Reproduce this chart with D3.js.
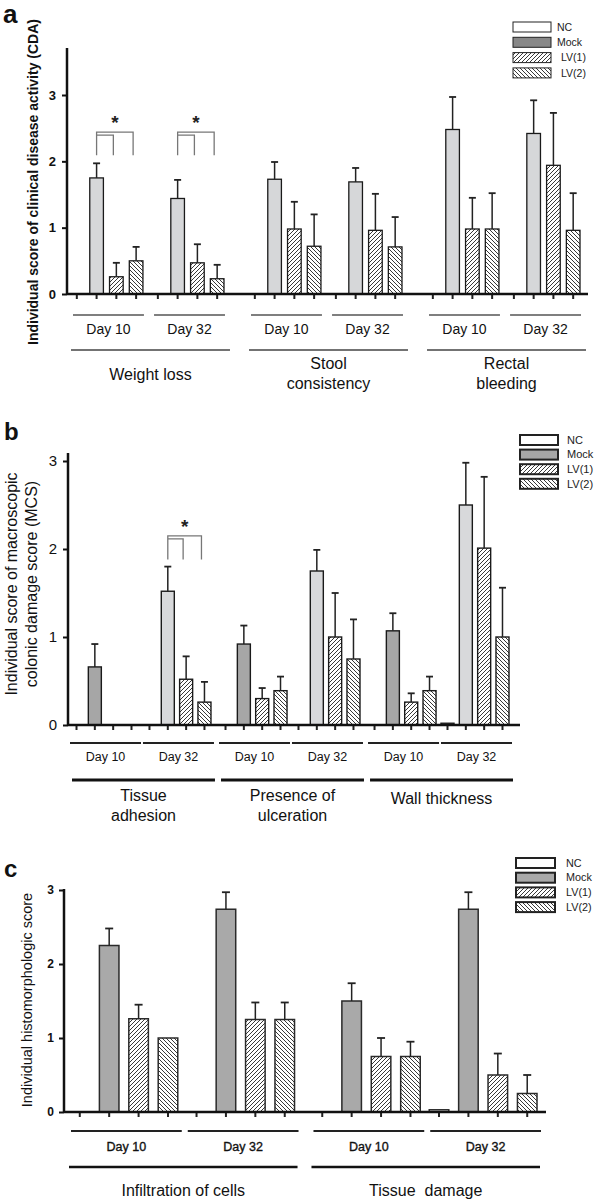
<!DOCTYPE html>
<html><head><meta charset="utf-8">
<script src="https://cdn.jsdelivr.net/npm/d3@7"></script>
<style>
body{margin:0;background:#fff;}
svg{display:block;font-family:"Liberation Sans",Arial,Helvetica,sans-serif;}
</style></head><body>
<svg id="chart" width="600" height="1199"></svg>
<script>
// ---------- shared ----------
const series = ["NC", "Mock", "LV(1)", "LV(2)"];
const days = ["Day 10", "Day 32"];
const yTicks = [0, 1, 2, 3];

// ---------- panel a : clinical disease activity ----------
const aCategories = ["Weight loss", "Stool consistency", "Rectal bleeding"];
const aCategoryLines = [["Weight loss"], ["Stool", "consistency"], ["Rectal", "bleeding"]];
const aNC      = [0, 0, 0, 0, 0, 0];
const aMock    = [1.75, 1.44, 1.73, 1.69, 2.48, 2.42];
const aLV1     = [0.26, 0.47, 0.98, 0.96, 0.98, 1.94];
const aLV2     = [0.50, 0.23, 0.72, 0.71, 0.98, 0.96];
const aNCErr   = [0, 0, 0, 0, 0, 0];
const aMockErr = [0.22, 0.28, 0.26, 0.21, 0.49, 0.50];
const aLV1Err  = [0.21, 0.28, 0.41, 0.55, 0.47, 0.79];
const aLV2Err  = [0.21, 0.21, 0.48, 0.45, 0.54, 0.56];
const aSig = [{cat: 0, day: 0, top: 2.44, bottom: 2.09}, {cat: 0, day: 1, top: 2.44, bottom: 2.09}];

// ---------- panel b : macroscopic colonic damage ----------
const bCategories = ["Tissue adhesion", "Presence of ulceration", "Wall thickness"];
const bCategoryLines = [["Tissue", "adhesion"], ["Presence of", "ulceration"], ["Wall thickness"]];
const bNC      = [0, 0, 0, 0, 0, 0.02];
const bMock    = [0.66, 1.52, 0.92, 1.75, 1.07, 2.50];
const bLV1     = [0, 0.52, 0.30, 1.00, 0.26, 2.01];
const bLV2     = [0, 0.26, 0.39, 0.75, 0.39, 1.00];
const bNCErr   = [0, 0, 0, 0, 0, 0];
const bMockErr = [0.26, 0.28, 0.21, 0.24, 0.20, 0.48];
const bLV1Err  = [0, 0.26, 0.12, 0.50, 0.10, 0.81];
const bLV2Err  = [0, 0.23, 0.16, 0.45, 0.16, 0.56];
const bSig = [{cat: 0, day: 1, top: 2.15, bottom: 1.88}];

// ---------- panel c : histomorphologic score ----------
const cCategories = ["Infiltration of cells", "Tissue  damage"];
const cCategoryLines = [["Infiltration of cells"], ["Tissue  damage"]];
const cNC      = [0, 0, 0, 0.03];
const cMock    = [2.25, 2.74, 1.50, 2.74];
const cLV1     = [1.26, 1.25, 0.75, 0.50];
const cLV2     = [1.00, 1.25, 0.75, 0.25];
const cNCErr   = [0, 0, 0, 0];
const cMockErr = [0.23, 0.23, 0.24, 0.23];
const cLV1Err  = [0.19, 0.23, 0.25, 0.29];
const cLV2Err  = [0, 0.23, 0.20, 0.25];
const cSig = [];

// ---------- drawing ----------
const svg = d3.select("#chart");
const defs = svg.append("defs");
function hatch(id, d) {
  defs.append("pattern").attr("id", id).attr("patternUnits", "userSpaceOnUse")
    .attr("width", 4).attr("height", 4)
    .call(p => p.append("rect").attr("width", 4).attr("height", 4).attr("fill", "#fff"))
    .append("path").attr("d", d).attr("stroke", "#222").attr("stroke-width", 0.9).attr("fill", "none");
}
hatch("hatchR", "M-1,1 L1,-1 M0,4 L4,0 M3,5 L5,3");
hatch("hatchL", "M-1,3 L1,5 M0,0 L4,4 M3,-1 L5,1");

function drawPanel(p) {
  const g = svg.append("g");
  const x0 = d3.scaleBand().domain(p.categories).range(p.xRange).paddingInner(p.catPad);
  const x1 = d3.scaleBand().domain(days).range([0, x0.bandwidth()]).paddingInner(p.dayPad);
  const x2 = d3.scaleBand().domain(series).range([0, x1.bandwidth()]).paddingInner(p.slotPad);
  const y = d3.scaleLinear().domain([0, 3]).range([p.yZero, p.yThree]);

  const rows = [];
  p.categories.forEach((c, ci) => days.forEach((d, di) => series.forEach((s, si) => {
    const k = ci * 2 + di;
    rows.push({c, d, s, ci, di, si, v: p.values[si][k], e: p.errors[si][k]});
  })));
  const xb = r => x0(r.c) + x1(r.d) + x2(r.s);
  const xc = r => xb(r) + x2.bandwidth() / 2;
  const fillFor = r => r.si === 0 ? "#fff" : r.si === 1 ? p.mockFill[r.di] : r.si === 2 ? "url(#hatchR)" : "url(#hatchL)";

  // x tick marks
  g.selectAll("line.xt").data(rows).join("line")
    .attr("x1", xc).attr("x2", xc).attr("y1", p.yZero).attr("y2", p.yZero + 5)
    .attr("stroke", "#222").attr("stroke-width", 2);

  // bars
  g.selectAll("rect.bar").data(rows.filter(r => r.v > 0)).join("rect")
    .attr("x", xb).attr("width", x2.bandwidth())
    .attr("y", r => y(r.v)).attr("height", r => y(0) - y(r.v))
    .attr("fill", fillFor).attr("stroke", p.barStroke).attr("stroke-width", p.barStrokeW);

  // error bars
  const eb = rows.filter(r => r.e > 0);
  g.selectAll("line.ev").data(eb).join("line")
    .attr("x1", xc).attr("x2", xc).attr("y1", r => y(r.v)).attr("y2", r => y(r.v + r.e))
    .attr("stroke", "#222").attr("stroke-width", 1.5);
  g.selectAll("line.ec").data(eb).join("line")
    .attr("x1", r => xc(r) - p.cap / 2).attr("x2", r => xc(r) + p.cap / 2)
    .attr("y1", r => y(r.v + r.e)).attr("y2", r => y(r.v + r.e))
    .attr("stroke", "#222").attr("stroke-width", 1.8);

  // axes
  g.append("line").attr("x1", p.axisX).attr("x2", p.axisX).attr("y1", p.yTop).attr("y2", p.yZero + 1)
    .attr("stroke", "#111").attr("stroke-width", 2.5);
  g.append("line").attr("x1", p.axisX).attr("x2", p.axisEnd).attr("y1", p.yZero).attr("y2", p.yZero)
    .attr("stroke", "#111").attr("stroke-width", 2.5);
  const ya = d3.axisLeft(y).tickValues(yTicks).tickFormat(d3.format("d")).tickSize(5).tickPadding(p.tickPad);
  const yg = g.append("g").attr("transform", `translate(${p.axisX},0)`).call(ya);
  yg.select(".domain").remove();
  yg.selectAll(".tick line").attr("stroke", "#111").attr("stroke-width", 2);
  yg.selectAll(".tick text").attr("fill", "#111").attr("font-family", "Liberation Sans, Arial, sans-serif")
    .attr("font-size", p.yTickFont).attr("font-weight", p.yTickWeight);

  // day underlines + labels
  const dayRows = [];
  p.categories.forEach(c => days.forEach(d => dayRows.push({c, d})));
  g.selectAll("line.dl").data(dayRows).join("line")
    .attr("x1", r => x0(r.c) + x1(r.d) + p.dayLineInset[0])
    .attr("x2", r => x0(r.c) + x1(r.d) + x1.bandwidth() + p.dayLineInset[1])
    .attr("y1", p.dayLineY).attr("y2", p.dayLineY)
    .attr("stroke", p.dayLineColor).attr("stroke-width", p.dayLineW);
  g.selectAll("text.dt").data(dayRows).join("text")
    .attr("x", r => x0(r.c) + x1(r.d) + x1.bandwidth() / 2 + (p.dayLineInset[0] + p.dayLineInset[1]) / 2)
    .attr("y", p.dayLabelY).attr("dy", "0.35em").attr("text-anchor", "middle")
    .attr("font-size", p.dayFont).attr("fill", "#111")
    .attr("stroke", p.dayStroke ? "#111" : "none").attr("stroke-width", p.dayStroke || 0)
    .text(r => r.d);

  // category underlines + labels
  g.selectAll("line.cl").data(p.categories).join("line")
    .attr("x1", c => x0(c) + p.catLineInset[0]).attr("x2", c => x0(c) + x0.bandwidth() + p.catLineInset[1])
    .attr("y1", p.catLineY).attr("y2", p.catLineY)
    .attr("stroke", p.catLineColor).attr("stroke-width", p.catLineW);
  p.categories.forEach((c, ci) => {
    const lines = p.categoryLines[ci];
    const y0 = lines.length === 1 ? p.catLabelY1 : p.catLabelY2;
    const cx = x0(c) + x0.bandwidth() / 2 + (p.catLineInset[0] + p.catLineInset[1]) / 2;
    lines.forEach((t, li) => {
      g.append("text").attr("x", cx).attr("y", y0 + li * 20).attr("dy", "0.35em")
        .attr("text-anchor", "middle").attr("font-size", 16).attr("fill", "#111")
        .style("white-space", "pre").text(t);
    });
  });

  // significance brackets
  p.sig.forEach(s => {
    const base = {c: p.categories[s.cat], d: days[s.day]};
    const cx = si => xc(Object.assign({}, base, {s: series[si]}));
    const xm = cx(1), xl1 = cx(2) - 3, xl2 = cx(3) - 3;
    const yt = y(s.top), yb = y(s.bottom);
    const path = `M${xm},${yb} V${yt} H${xl2} V${yb} M${xm},${yt + 3} H${xl1} V${yb}`;
    g.append("path").attr("d", path).attr("fill", "none").attr("stroke", "#777").attr("stroke-width", 1.3);
    g.append("text").attr("x", (xm + xl2) / 2).attr("y", yt - 3).attr("text-anchor", "middle")
      .attr("font-size", 19).attr("font-weight", "bold").attr("fill", "#222").text("*");
  });

  // legend
  const lg = g.append("g");
  series.forEach((s, si) => {
    const ty = p.legend.y + si * p.legend.step;
    lg.append("rect").attr("x", p.legend.x).attr("y", ty).attr("width", p.legend.w).attr("height", p.legend.h)
      .attr("fill", si === 0 ? "#fff" : si === 1 ? p.legend.mock : si === 2 ? "url(#hatchR)" : "url(#hatchL)")
      .attr("stroke", "#222").attr("stroke-width", p.legend.sw);
    lg.append("text").attr("x", p.legend.tx + (si > 1 ? p.legend.lvShift : 0)).attr("y", ty + p.legend.h / 2)
      .attr("dy", "0.35em").attr("font-size", p.legend.font).attr("fill", "#222").text(s);
  });

  // panel letter
  g.append("text").attr("x", p.letter.x).attr("y", p.letter.y).attr("font-size", p.letter.size)
    .attr("font-weight", "bold").attr("fill", "#111").text(p.letter.t);

  // y label
  p.yLabel.lines.forEach((t, li) => {
    g.append("text").attr("transform", `translate(${p.yLabel.x[li]},${p.yLabel.y}) rotate(-90)`)
      .attr("text-anchor", "middle").attr("dy", "0.35em").attr("font-size", p.yLabel.size)
      .attr("font-weight", p.yLabel.weight).attr("fill", "#111").text(t);
  });
}

drawPanel({
  categories: aCategories, categoryLines: aCategoryLines,
  values: [aNC, aMock, aLV1, aLV2], errors: [aNCErr, aMockErr, aLV1Err, aLV2Err], sig: aSig,
  xRange: [70, 580], catPad: 0.135, dayPad: 0.1, slotPad: 0.31,
  yZero: 294, yThree: 95, yTop: 48, axisX: 67, axisEnd: 588,
  mockFill: ["#d6d7d9", "#d6d7d9"], barStroke: "#1a1a1a", barStrokeW: 1.3, cap: 7,
  tickPad: 6, yTickFont: 13, yTickWeight: "bold",
  dayLineY: 315, dayLineInset: [3, 1], dayLineColor: "#555", dayLineW: 1.3,
  dayLabelY: 329, dayFont: 14, dayStroke: 0,
  catLineY: 350, catLineInset: [1, 6], catLineColor: "#444", catLineW: 1.5,
  catLabelY1: 374, catLabelY2: 363,
  legend: {x: 513, y: 22, step: 15.3, w: 38, h: 10, sw: 1, tx: 557, lvShift: 4, font: 10.5, mock: "#888"},
  letter: {x: 3, y: 23, size: 26, t: "a"},
  yLabel: {lines: ["Individual score of clinical disease activity (CDA)"], x: [33], y: 182, size: 14, weight: "bold"}
});

drawPanel({
  categories: bCategories, categoryLines: bCategoryLines,
  values: [bNC, bMock, bLV1, bLV2], errors: [bNCErr, bMockErr, bLV1Err, bLV2Err], sig: bSig,
  xRange: [70, 509], catPad: 0.054, dayPad: 0.068, slotPad: 0.29,
  yZero: 725, yThree: 461, yTop: 453, axisX: 68, axisEnd: 520,
  mockFill: ["#a6a6a6", "#d8d9db"], barStroke: "#1a1a1a", barStrokeW: 1.4, cap: 7,
  tickPad: 6, yTickFont: 15, yTickWeight: "normal",
  dayLineY: 743, dayLineInset: [0, 3], dayLineColor: "#222", dayLineW: 2,
  dayLabelY: 757, dayFont: 12.5, dayStroke: 0,
  catLineY: 780, catLineInset: [2, 4], catLineColor: "#111", catLineW: 3,
  catLabelY1: 798, catLabelY2: 795,
  legend: {x: 520, y: 435, step: 14.6, w: 38, h: 10, sw: 2, tx: 567, lvShift: 0, font: 11, mock: "#a6a6a6"},
  letter: {x: 4, y: 440, size: 24, t: "b"},
  yLabel: {lines: ["Individual score of macroscopic", "colonic damage score (MCS)"], x: [11, 31], y: 584, size: 16, weight: "normal"}
});

drawPanel({
  categories: cCategories, categoryLines: cCategoryLines,
  values: [cNC, cMock, cLV1, cLV2], errors: [cNCErr, cMockErr, cLV1Err, cLV2Err], sig: cSig,
  xRange: [70, 537], catPad: 0.074, dayPad: 0.077, slotPad: 0.335,
  yZero: 1112, yThree: 890, yTop: 889, axisX: 64, axisEnd: 546,
  mockFill: ["#a9a9a9", "#a9a9a9"], barStroke: "#2a2a2a", barStrokeW: 1.5, cap: 8,
  tickPad: 5, yTickFont: 12, yTickWeight: "bold",
  dayLineY: 1131, dayLineInset: [1, 4], dayLineColor: "#222", dayLineW: 2,
  dayLabelY: 1147, dayFont: 12.5, dayStroke: 0.35,
  catLineY: 1167, catLineInset: [-1, 3], catLineColor: "#111", catLineW: 2.5,
  catLabelY1: 1190, catLabelY2: 1190,
  legend: {x: 516, y: 858, step: 14.7, w: 39, h: 10, sw: 2, tx: 566, lvShift: 0, font: 10.8, mock: "#a9a9a9"},
  letter: {x: 4, y: 877, size: 24, t: "c"},
  yLabel: {lines: ["Individual histomorphologic score"], x: [27], y: 1000, size: 14.5, weight: "normal"}
});
</script>
</body></html>
